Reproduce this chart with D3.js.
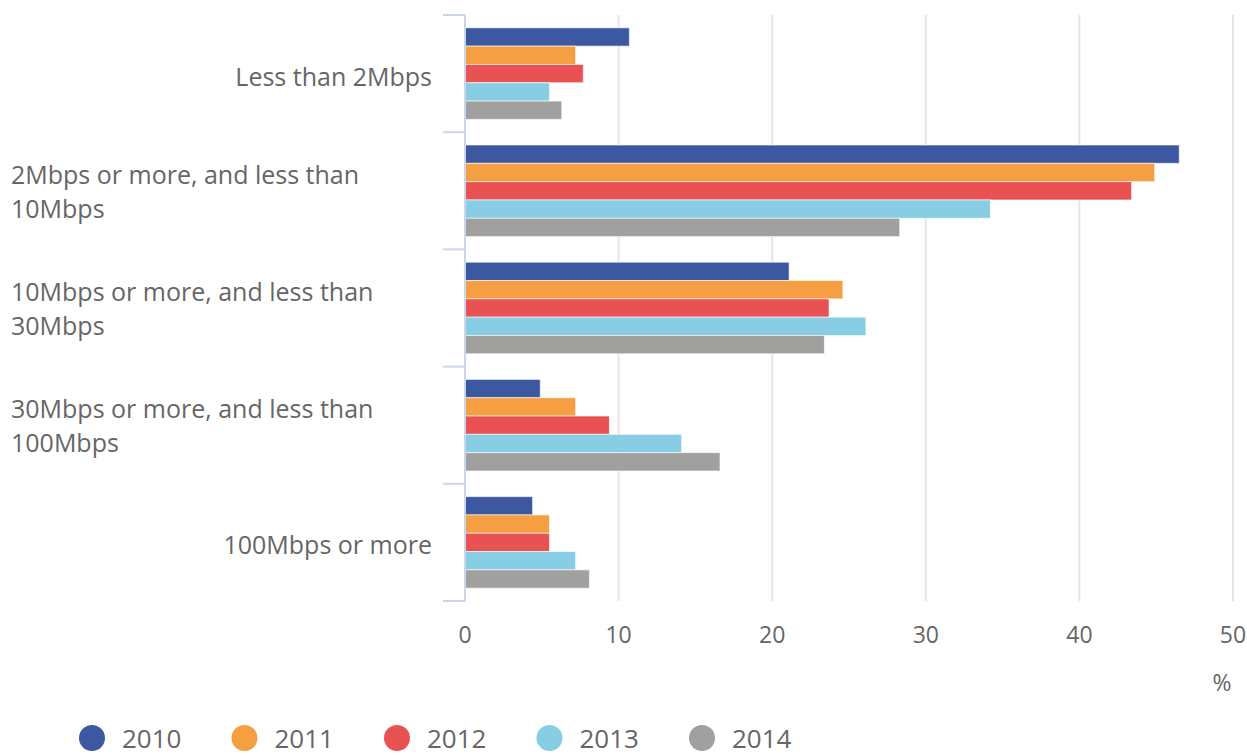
<!DOCTYPE html>
<html><head><meta charset="utf-8">
<script src="https://cdn.jsdelivr.net/npm/d3@7"></script>
<style>
html,body{margin:0;padding:0;background:#fff;}
svg{display:block;font-family:"Open Sans",sans-serif;}
</style></head>
<body>
<svg id="chart" width="1247" height="756"></svg>
<script>
const categories = [
  ["Less than 2Mbps"],
  ["2Mbps or more, and less than","10Mbps"],
  ["10Mbps or more, and less than","30Mbps"],
  ["30Mbps or more, and less than","100Mbps"],
  ["100Mbps or more"]
];
const years = ["2010","2011","2012","2013","2014"];
const colors = ["#3b58a0","#f59e42","#e85252","#87cee4","#a0a09f"];
const v2010 = [10.7, 46.5, 21.1, 4.9, 4.4];
const v2011 = [7.2, 44.9, 24.6, 7.2, 5.5];
const v2012 = [7.7, 43.4, 23.7, 9.4, 5.5];
const v2013 = [5.5, 34.2, 26.1, 14.1, 7.2];
const v2014 = [6.3, 28.3, 23.4, 16.6, 8.1];
const series = [v2010, v2011, v2012, v2013, v2014];
const xTicks = [0, 10, 20, 30, 40, 50];

(function(){
const svg = d3.select("#chart");
const pLeft = 465, pRight = 1233, pTop = 15, pBottom = 601;
const x = d3.scaleLinear().domain([0, 50]).range([pLeft, pRight]);
const y = d3.scaleBand().domain(d3.range(categories.length)).range([pTop, pBottom]);
const inner = d3.scaleBand().domain(d3.range(years.length)).range([0, y.bandwidth()]).paddingOuter(0.7).paddingInner(0);

// gridlines
svg.append("g").selectAll("line").data(xTicks.filter(t => t > 0)).join("line")
  .attr("x1", d => x(d)).attr("x2", d => x(d))
  .attr("y1", pTop).attr("y2", pBottom)
  .attr("stroke", "#e6e6e6").attr("stroke-width", 2);

// bars
categories.forEach((c, ci) => {
  series.forEach((s, si) => {
    svg.append("rect")
      .attr("x", x(0))
      .attr("y", y(ci) + inner(si))
      .attr("width", x(s[ci]) - x(0))
      .attr("height", inner.bandwidth())
      .attr("fill", colors[si])
      .attr("stroke", "rgba(255,255,255,0.6)")
      .attr("stroke-width", 1);
  });
});

// y axis line and ticks
svg.append("line").attr("x1", pLeft).attr("x2", pLeft).attr("y1", pTop).attr("y2", pBottom)
  .attr("stroke", "#ccd6eb").attr("stroke-width", 2);
const bounds = d3.range(categories.length + 1).map(i => i < categories.length ? y(i) : pBottom);
svg.append("g").selectAll("line").data(bounds).join("line")
  .attr("x1", pLeft - 22).attr("x2", pLeft).attr("y1", d => d).attr("y2", d => d)
  .attr("stroke", "#ccd6eb").attr("stroke-width", 2);

// category labels
categories.forEach((c, ci) => {
  const cy = y(ci) + y.bandwidth() / 2;
  if (c.length === 1) {
    svg.append("text").attr("x", 432).attr("y", cy + 12)
      .attr("text-anchor", "end").attr("font-size", 25).attr("fill", "#666")
      .text(c[0]);
  } else {
    const t = svg.append("text").attr("font-size", 25).attr("fill", "#666");
    c.forEach((line, li) => {
      t.append("tspan").attr("x", 11).attr("y", cy - 7 + li * 34).text(line);
    });
  }
});

// x tick labels
svg.append("g").selectAll("text").data(xTicks).join("text")
  .attr("x", d => x(d)).attr("y", 643)
  .attr("text-anchor", "middle").attr("font-size", 23).attr("fill", "#666")
  .text(d => d);
svg.append("text").attr("x", 1222).attr("y", 691).attr("text-anchor", "middle")
  .attr("font-size", 23).attr("fill", "#666").text("%");

// legend
years.forEach((yr, i) => {
  const lx = 92 + i * 152.5;
  svg.append("ellipse").attr("cx", lx).attr("cy", 738).attr("rx", 13).attr("ry", 13).attr("fill", colors[i]);
  svg.append("text").attr("x", lx + 30).attr("y", 748).attr("font-size", 26).attr("fill", "#666").text(yr);
});
})();
</script>
</body></html>
